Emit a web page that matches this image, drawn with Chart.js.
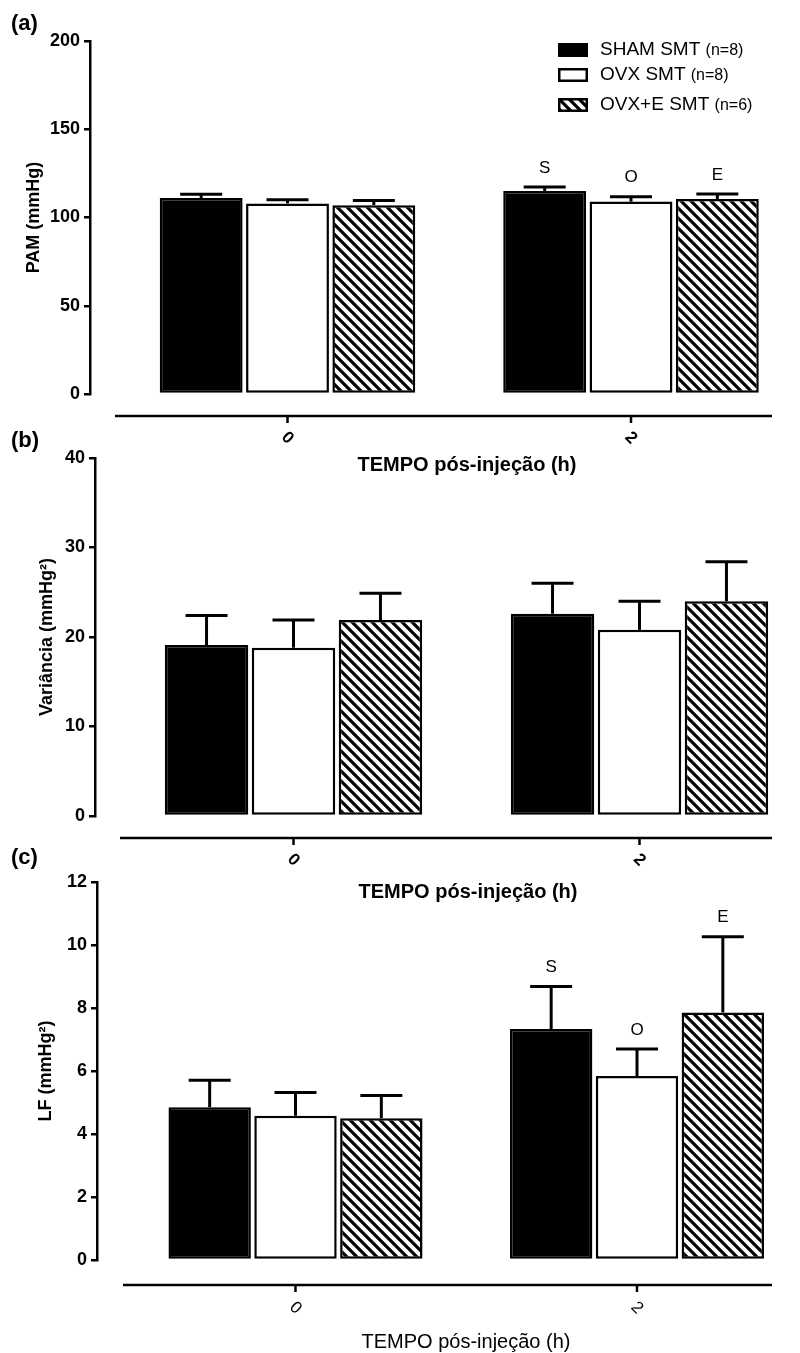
<!DOCTYPE html>
<html>
<head>
<meta charset="utf-8">
<script src="https://cdn.jsdelivr.net/npm/chart.js@4.4.1/dist/chart.umd.min.js"></script>
<style>
  html, body { margin:0; padding:0; background:#ffffff; }
  #page { position:relative; width:800px; height:1353px; overflow:hidden; background:#fff; }
  #page canvas { position:absolute; left:0; }
</style>
</head>
<body>
<div id="page">
  <canvas id="chartA" width="800" height="500" style="top:0px"></canvas>
  <canvas id="chartB" width="800" height="500" style="top:420px"></canvas>
  <canvas id="chartC" width="800" height="513" style="top:840px"></canvas>
</div>
<script>
// ---------- data ----------
const timeLabels = ['0', '2'];
const timeValues = [0, 2];
const seriesNames = ['SHAM SMT', 'OVX SMT', 'OVX+E SMT'];
const seriesN = ['(n=8)', '(n=8)', '(n=6)'];
const xAxisTitle = 'TEMPO pós-injeção (h)';

// (a) PAM
const pamSham = [111, 115];
const pamOvx = [108, 109];
const pamOvxE = [107, 110.5];
const pamShamErr = [2.2, 2.3];
const pamOvxErr = [2.0, 2.8];
const pamOvxEErr = [2.6, 2.8];
const pamSigSham = ['', 'S'];
const pamSigOvx = ['', 'O'];
const pamSigOvxE = ['', 'E'];
const pamTicks = [0, 50, 100, 150, 200];

// (b) Variancia
const varSham = [19.1, 22.6];
const varOvx = [18.8, 20.8];
const varOvxE = [21.9, 24.0];
const varShamErr = [3.3, 3.4];
const varOvxErr = [3.1, 3.2];
const varOvxEErr = [3.0, 4.4];
const varTicks = [0, 10, 20, 30, 40];

// (c) LF
const lfSham = [4.85, 7.33];
const lfOvx = [4.58, 5.84];
const lfOvxE = [4.5, 7.86];
const lfShamErr = [0.86, 1.35];
const lfOvxErr = [0.74, 0.86];
const lfOvxEErr = [0.72, 2.4];
const lfSigSham = ['', 'S'];
const lfSigOvx = ['', 'O'];
const lfSigOvxE = ['', 'E'];
const lfTicks = [0, 2, 4, 6, 8, 10, 12];

// ---------- styling ----------
const FONT = '"Liberation Sans", Arial, Helvetica, sans-serif';

function makeHatch() {
  const s = 10;
  const c = document.createElement('canvas'); c.width = s; c.height = s;
  const g = c.getContext('2d');
  g.fillStyle = '#fff'; g.fillRect(0, 0, s, s);
  g.strokeStyle = '#000'; g.lineWidth = 3.2;
  g.beginPath();
  for (const k of [-1, 0, 1]) { g.moveTo(-3, -3 + k * s); g.lineTo(s + 3, s + 3 + k * s); }
  g.stroke();
  return g.createPattern(c, 'repeat');
}
const hatch = makeHatch();
const fills = ['#000000', '#ffffff', hatch];

const panels = [
  { canvas: 'chartA', top: 0, h: 500, letter: '(a)', yTitle: 'PAM (mmHg)',
    means: [pamSham, pamOvx, pamOvxE], errs: [pamShamErr, pamOvxErr, pamOvxEErr],
    sig: [pamSigSham, pamSigOvx, pamSigOvxE], ticks: pamTicks, legend: true,
    axisX: 90, yTopPx: 41, yZeroPx: 394, c0: 287.5, c2: 631,
    xLineY: 416, xLineStart: 115, xLineEnd: 772, tickLabelY: 438,
    xTitleX: 467, xTitleY: 465, yTitleX: 34, letterY: 24,
    xTitleFont: 'bold 20px ', xTickFont: 'bold 17px ' },
  { canvas: 'chartB', top: 420, h: 500, letter: '(b)', yTitle: 'Variância (mmHg²)',
    means: [varSham, varOvx, varOvxE], errs: [varShamErr, varOvxErr, varOvxEErr],
    sig: null, ticks: varTicks, legend: false,
    axisX: 95, yTopPx: 458, yZeroPx: 816, c0: 293.5, c2: 639.5,
    xLineY: 838, xLineStart: 120, xLineEnd: 772, tickLabelY: 860,
    xTitleX: 468, xTitleY: 892, yTitleX: 47, letterY: 441,
    xTitleFont: 'bold 20px ', xTickFont: 'bold 17px ' },
  { canvas: 'chartC', top: 840, h: 513, letter: '(c)', yTitle: 'LF (mmHg²)',
    means: [lfSham, lfOvx, lfOvxE], errs: [lfShamErr, lfOvxErr, lfOvxEErr],
    sig: [lfSigSham, lfSigOvx, lfSigOvxE], ticks: lfTicks, legend: false,
    axisX: 97, yTopPx: 882, yZeroPx: 1260, c0: 295.5, c2: 637,
    xLineY: 1285, xLineStart: 123, xLineEnd: 772, tickLabelY: 1308,
    xTitleX: 466, xTitleY: 1342, yTitleX: 46, letterY: 858,
    xTitleFont: '20px ', xTickFont: '17px ' }
];

function decorPlugin(p) {
  const T = p.top;
  return {
    id: 'decor',
    afterDatasetsDraw(chart) {
      const ctx = chart.ctx, xs = chart.scales.x, ys = chart.scales.y;
      ctx.save();
      ctx.strokeStyle = '#000'; ctx.fillStyle = '#000';
      // error bars (upper SEM) and significance letters
      chart.data.datasets.forEach((ds, i) => {
        chart.getDatasetMeta(i).data.forEach((bar, j) => {
          const v = p.means[i][j], e = p.errs[i][j];
          const y0 = ys.getPixelForValue(v), y1 = ys.getPixelForValue(v + e);
          ctx.lineWidth = 3;
          ctx.beginPath(); ctx.moveTo(bar.x, y0); ctx.lineTo(bar.x, y1); ctx.stroke();
          ctx.beginPath(); ctx.moveTo(bar.x - 21, y1); ctx.lineTo(bar.x + 21, y1); ctx.stroke();
          const s = p.sig && p.sig[i][j];
          if (s) {
            ctx.font = '17px ' + FONT; ctx.textAlign = 'center'; ctx.textBaseline = 'middle';
            ctx.fillText(s, bar.x, y1 - 19);
          }
        });
      });
      // detached x axis line with ticks and rotated labels
      ctx.lineWidth = 2.5;
      ctx.beginPath(); ctx.moveTo(p.xLineStart, p.xLineY - T); ctx.lineTo(p.xLineEnd, p.xLineY - T); ctx.stroke();
      timeValues.forEach((t, k) => {
        const px = xs.getPixelForValue(t);
        ctx.beginPath(); ctx.moveTo(px, p.xLineY - T); ctx.lineTo(px, p.xLineY - T + 7); ctx.stroke();
        ctx.save();
        ctx.translate(px, p.tickLabelY - T); ctx.rotate(Math.PI / 4);
        ctx.font = p.xTickFont + FONT; ctx.textAlign = 'center'; ctx.textBaseline = 'middle';
        ctx.fillText(timeLabels[k], 0, 0);
        ctx.restore();
      });
      // x axis title
      ctx.font = p.xTitleFont + FONT; ctx.textAlign = 'center'; ctx.textBaseline = 'middle';
      ctx.fillText(xAxisTitle, p.xTitleX, p.xTitleY - T);
      // panel letter
      ctx.font = 'bold 22px ' + FONT; ctx.textAlign = 'left'; ctx.textBaseline = 'middle';
      ctx.fillText(p.letter, 11, p.letterY - T);
      // legend
      if (p.legend) {
        const rows = [50, 75, 105];
        seriesNames.forEach((name, i) => {
          const y = rows[i] - T;
          ctx.fillStyle = fills[i];
          ctx.fillRect(558, y - 7, 30, 14);
          ctx.lineWidth = 2.5; ctx.strokeStyle = '#000';
          ctx.strokeRect(559.25, y - 5.75, 27.5, 11.5);
          ctx.fillStyle = '#000';
          ctx.font = '19px ' + FONT; ctx.textAlign = 'left'; ctx.textBaseline = 'middle';
          ctx.fillText(name, 600, y);
          const w = ctx.measureText(name + ' ').width;
          ctx.font = '16px ' + FONT;
          ctx.fillText(seriesN[i], 600 + w, y + 1);
        });
      }
      ctx.restore();
    }
  };
}

function buildPanel(p) {
  const L = p.axisX, R = p.xLineEnd;
  const ppu = (p.c2 - p.c0) / (timeValues[1] - timeValues[0]);
  const xmin = timeValues[0] - (p.c0 - L) / ppu;
  const xmax = timeValues[1] + (R - p.c2) / ppu;
  const datasets = seriesNames.map((name, i) => ({
    label: name,
    data: timeValues.map((t, j) => ({ x: t, y: p.means[i][j] })),
    backgroundColor: fills[i],
    borderColor: '#000',
    borderWidth: 2.5,
    borderSkipped: false,
    categoryPercentage: 0.754,
    barPercentage: 0.96
  }));
  new Chart(document.getElementById(p.canvas), {
    type: 'bar',
    data: { datasets },
    options: {
      responsive: false, animation: false, devicePixelRatio: 1,
      layout: { padding: { top: p.yTopPx - p.top, right: 800 - R, left: 0, bottom: 0 } },
      plugins: { legend: { display: false }, tooltip: { enabled: false }, title: { display: false } },
      scales: {
        x: {
          type: 'linear', min: xmin, max: xmax, bounds: 'data', offset: false,
          afterBuildTicks: s => { s.ticks = timeValues.map(v => ({ value: v })); },
          afterFit: s => { s.height = p.h - (p.yZeroPx - p.top); },
          grid: { display: false }, border: { display: false }, ticks: { display: false }
        },
        y: {
          type: 'linear', min: 0, max: p.ticks[p.ticks.length - 1],
          afterBuildTicks: s => { s.ticks = p.ticks.map(v => ({ value: v })); },
          afterFit: s => { s.width = p.axisX; },
          grid: { drawOnChartArea: false, drawTicks: true, tickLength: 6, color: '#000', lineWidth: 2.5 },
          border: { display: true, color: '#000', width: 2.5 },
          ticks: { color: '#000', padding: 4, font: { family: FONT, size: 18, weight: 'bold' } },
          title: { display: true, text: p.yTitle, color: '#000',
                   font: { family: FONT, size: 18, weight: 'bold' },
                   padding: { top: p.yTitleX - 10.8, bottom: 0 } }
        }
      }
    },
    plugins: [decorPlugin(p)]
  });
}

panels.forEach(buildPanel);
</script>
</body>
</html>
